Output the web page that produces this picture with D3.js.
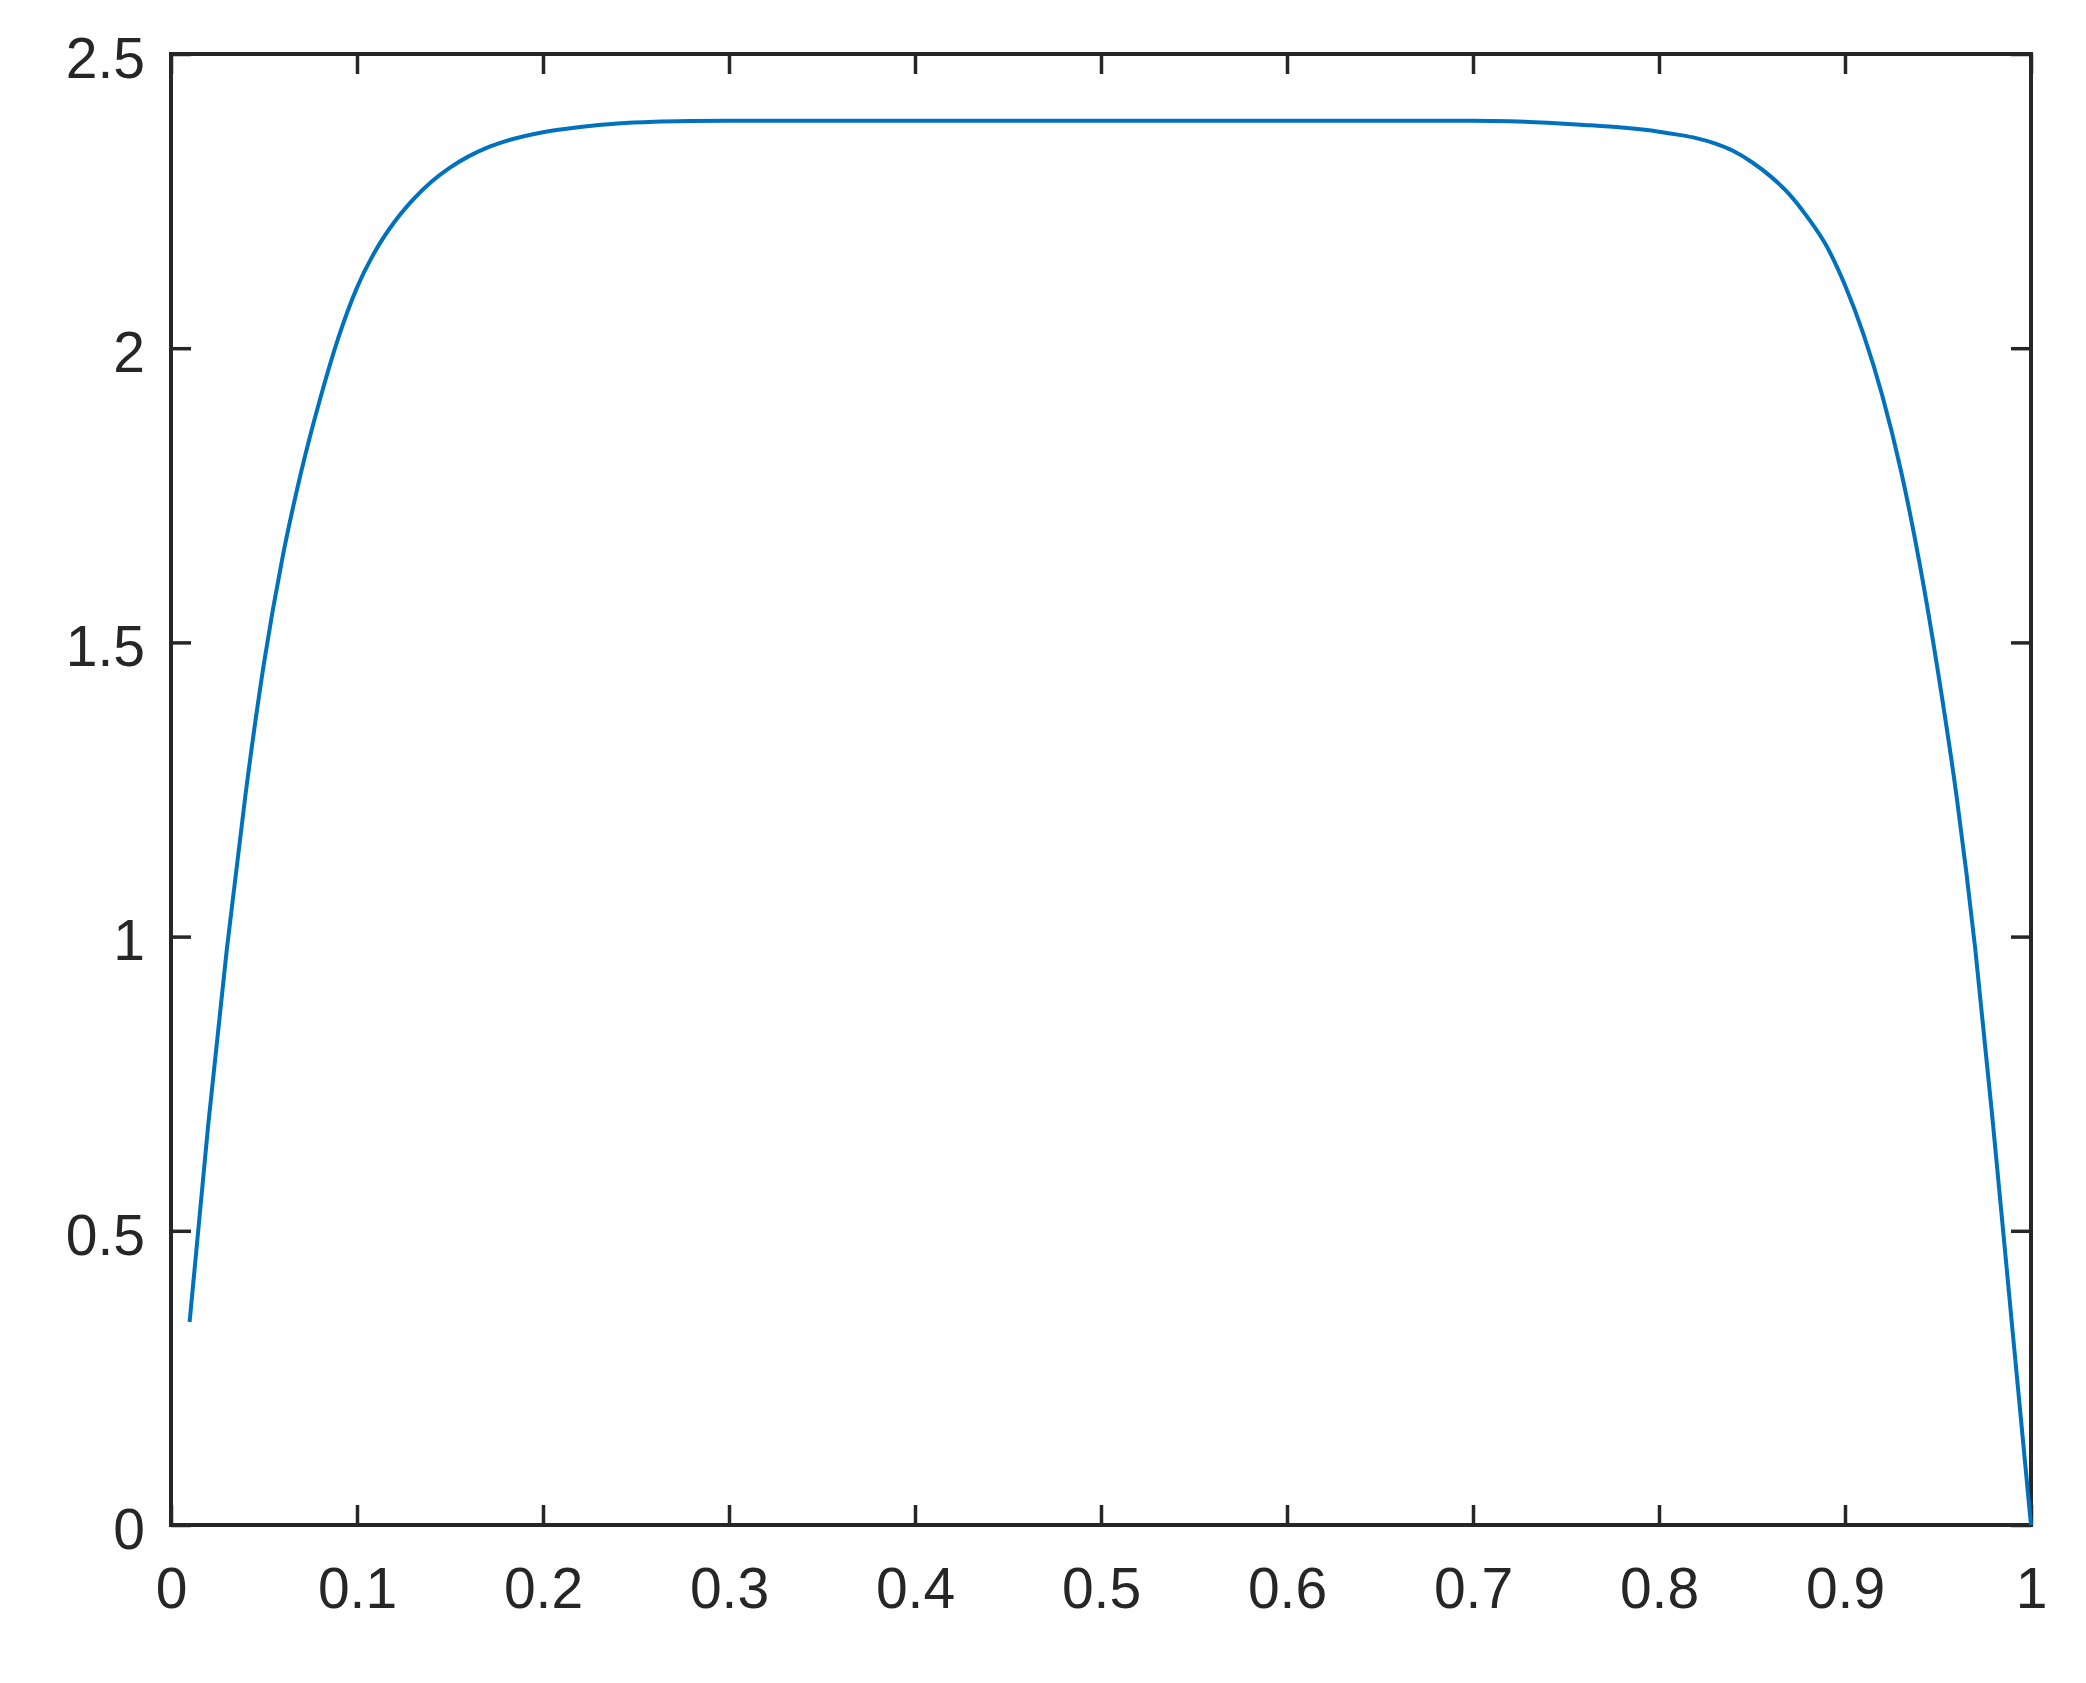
<!DOCTYPE html>
<html>
<head>
<meta charset="utf-8">
<script src="https://cdn.jsdelivr.net/npm/d3@7"></script>
<style>
  body { margin: 0; background: #fff; }
  svg { display: block; }
  .tick text { font-family: "Liberation Sans", Arial, Helvetica, sans-serif; font-size: 57px; fill: #262626; }
</style>
</head>
<body>
<div class="canva"></div>
<script>
// values
xs = [0.01, 0.02, 0.03, 0.04, 0.05, 0.06, 0.07, 0.08, 0.09, 0.10,
      0.11, 0.12, 0.13, 0.14, 0.15, 0.16, 0.17, 0.18, 0.20, 0.22,
      0.24, 0.26, 0.28, 0.30, 0.40, 0.50, 0.60, 0.70, 0.72, 0.74,
      0.76, 0.78, 0.80, 0.81, 0.82, 0.83, 0.84, 0.85, 0.86, 0.87,
      0.88, 0.89, 0.90, 0.91, 0.92, 0.93, 0.94, 0.95, 0.96, 0.97,
      0.98, 0.99, 1.00]
ys = [0.345, 0.680, 0.978, 1.240, 1.465, 1.645, 1.790, 1.912, 2.018, 2.103,
      2.166, 2.214, 2.252, 2.283, 2.307, 2.326, 2.341, 2.352, 2.367, 2.376,
      2.382, 2.385, 2.3862, 2.3866, 2.3866, 2.3866, 2.3866, 2.3866, 2.3857, 2.3832,
      2.3795, 2.375, 2.368, 2.363, 2.357, 2.348, 2.335, 2.316, 2.292, 2.262,
      2.222, 2.174, 2.107, 2.023, 1.920, 1.793, 1.636, 1.450, 1.238, 0.980,
      0.667, 0.333, 0.0]

x_ticks = [0, 0.1, 0.2, 0.3, 0.4, 0.5, 0.6, 0.7, 0.8, 0.9, 1]
y_ticks = [0, 0.5, 1, 1.5, 2, 2.5]

const W = 2086, H = 1683
const m_left = 171, m_right = 2031, m_top = 54, m_bottom = 1525
const axisColor = "#262626"

const svg = d3.select('.canva').append('svg')
    .attr('width', W)
    .attr('height', H)

svg.append('rect').attr('width', W).attr('height', H).attr('fill', '#fff')

const x = d3.scaleLinear().domain([0, 1]).range([m_left, m_right])
const y = d3.scaleLinear().domain([0, 2.5]).range([m_bottom, m_top])

function style_axis(g) {
    g.select('.domain').remove()
    g.selectAll('.tick line').attr('stroke', axisColor).attr('stroke-width', 3.5)
}

// bottom + left with labels, top + right mirrored ticks only
svg.append('g')
    .attr('transform', `translate(0,${m_bottom})`)
    .call(d3.axisBottom(x).tickValues(x_ticks).tickFormat(d3.format('')).tickSize(-20).tickPadding(43))
    .call(style_axis)

svg.append('g')
    .attr('transform', `translate(0,${m_top})`)
    .call(d3.axisTop(x).tickValues(x_ticks).tickFormat('').tickSize(-20))
    .call(style_axis)

const yAxis = svg.append('g')
    .attr('transform', `translate(${m_left},0)`)
    .call(d3.axisLeft(y).tickValues(y_ticks).tickFormat(d3.format('')).tickSize(-20).tickPadding(26))
    .call(style_axis)
yAxis.selectAll('.tick text').attr('dy', '0.41em')

svg.append('g')
    .attr('transform', `translate(${m_right},0)`)
    .call(d3.axisRight(y).tickValues(y_ticks).tickFormat('').tickSize(-20))
    .call(style_axis)

svg.selectAll('.tick text').attr('fill', axisColor)

// box
svg.append('rect')
    .attr('x', m_left).attr('y', m_top)
    .attr('width', m_right - m_left).attr('height', m_bottom - m_top)
    .attr('fill', 'none')
    .attr('stroke', axisColor)
    .attr('stroke-width', 4)

const line = d3.line()
    .x((d, i) => x(xs[i]))
    .y((d, i) => y(ys[i]))
    .curve(d3.curveMonotoneX)

svg.append('path')
    .datum(xs)
    .attr('d', line)
    .attr('fill', 'none')
    .attr('stroke', '#0072BD')
    .attr('stroke-width', 4)
</script>
</body>
</html>
